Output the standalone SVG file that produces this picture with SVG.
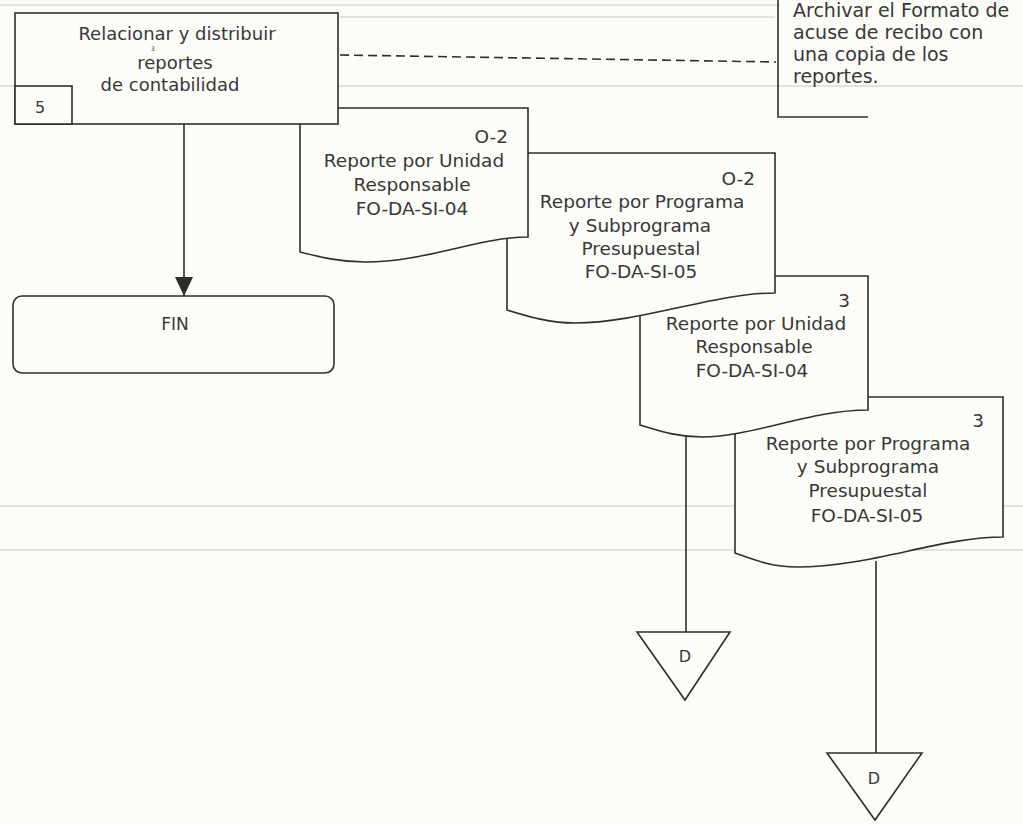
<svg xmlns="http://www.w3.org/2000/svg" width="1023" height="824" viewBox="0 0 1023 824">
<defs>
<style>
.bg{fill:#fcfcf8}
.shape{fill:#fcfcf8;stroke:#2e2e2e;stroke-width:1.6}
.line{fill:none;stroke:#2e2e2e;stroke-width:1.6}
.scan{fill:none;stroke:#c8c8c8;stroke-width:1}
.t{font-family:"DejaVu Sans",Verdana,sans-serif;fill:#383838;text-anchor:middle}
.d{font-size:18.5px}
.r{text-anchor:end}
</style>
<marker id="arrow" markerWidth="20" markerHeight="18" refX="19" refY="9" orient="auto" markerUnits="userSpaceOnUse">
<path d="M0,0 L19,9 L0,18 Z" fill="#2e2e2e"/>
</marker>
</defs>
<rect class="bg" x="0" y="0" width="1023" height="824"/>
<g id="scan-lines">
<path class="scan" d="M0,5 H780"/>
<path class="scan" d="M340,17 H775"/>
<path class="scan" d="M0,86 H1023"/>
<path class="scan" d="M0,506 H1023"/>
<path class="scan" d="M0,550 H1023"/>
</g>
<g id="doc4">
<path class="shape" d="M735,397 H1003 V537 C940,537 870,567 797,567 C770,567 752,559 735,553 Z"/>
<text class="t d r" x="984" y="427">3</text>
<text class="t d" x="868" y="450">Reporte por Programa</text>
<text class="t d" x="868" y="473">y Subprograma</text>
<text class="t d" x="868" y="497">Presupuestal</text>
<text class="t d" x="867" y="522">FO-DA-SI-05</text>
</g>
<g id="doc3">
<path class="shape" d="M640,276 H868 V410 C810,410 752,437 702,437 C677,437 660,431 640,425 Z"/>
<text class="t d r" x="850" y="307">3</text>
<text class="t d" x="756" y="330">Reporte por Unidad</text>
<text class="t d" x="754" y="353">Responsable</text>
<text class="t d" x="752" y="377">FO-DA-SI-04</text>
</g>
<g id="doc2">
<path class="shape" d="M507,153 H775 V293 C715,293 640,323 575,323 C550,323 530,317 507,310 Z"/>
<text class="t d r" x="755" y="185">O-2</text>
<text class="t d" x="642" y="208">Reporte por Programa</text>
<text class="t d" x="640" y="232">y Subprograma</text>
<text class="t d" x="641" y="255">Presupuestal</text>
<text class="t d" x="641" y="278">FO-DA-SI-05</text>
</g>
<g id="doc1">
<path class="shape" d="M300,108 H528 V237 C480,237 425,262 365,262 C340,262 320,257 300,252 Z"/>
<text class="t d r" x="508" y="143">O-2</text>
<text class="t d" x="414" y="167">Reporte por Unidad</text>
<text class="t d" x="412" y="191">Responsable</text>
<text class="t d" x="412" y="215">FO-DA-SI-04</text>
</g>
<g id="main-box">
<rect class="shape" x="15" y="13" width="323" height="111"/>
<rect class="shape" x="15" y="86" width="57" height="38"/>
<text class="t" x="177" y="40" font-size="18">Relacionar y distribuir</text>
<text class="t" x="153" y="50.5" font-size="6">3</text>
<text class="t" x="175" y="69" font-size="18">reportes</text>
<text class="t" x="170" y="91" font-size="18">de contabilidad</text>
<text class="t" x="40" y="113" font-size="16">5</text>
</g>
<g id="archive-note">
<path class="line" d="M778,-2 V117 H868"/>
<g class="t" style="text-anchor:start" font-size="19">
<text x="793" y="17">Archivar el Formato de</text>
<text x="793" y="39">acuse de recibo con</text>
<text x="793" y="61">una copia de los</text>
<text x="793" y="83">reportes.</text>
</g>
</g>
<g id="fin">
<rect class="shape" x="13" y="296" width="321" height="77" rx="9" ry="9"/>
<text class="t" x="175" y="330" font-size="17">FIN</text>
</g>
<g id="connector-d1">
<path class="shape" d="M637,632 L730,632 L685,700 Z"/>
<text class="t" x="685" y="662" font-size="16">D</text>
</g>
<g id="connector-d2">
<path class="shape" d="M827,753 L922,753 L875,820 Z"/>
<text class="t" x="874" y="784" font-size="16">D</text>
</g>
<g id="connectors">
<path class="line" d="M184,124 V296" marker-end="url(#arrow)"/>
<path class="line" d="M340,55 L776,62" stroke-dasharray="9 5"/>
<path class="line" d="M686,436 V632"/>
<path class="line" d="M876,561 V753"/>
</g>
</svg>
